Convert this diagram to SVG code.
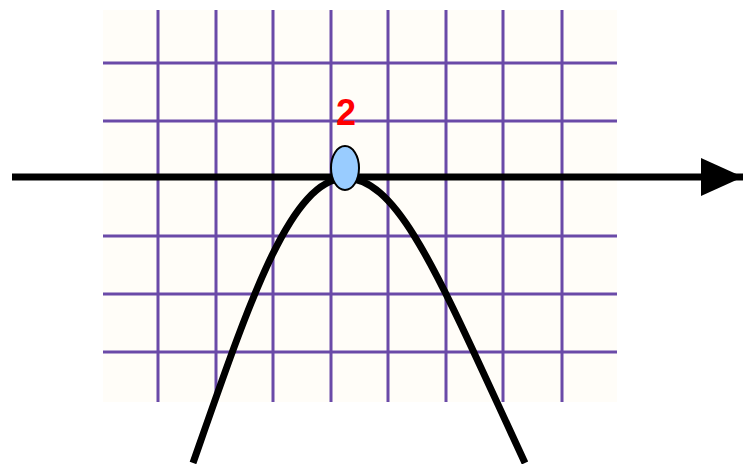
<svg xmlns="http://www.w3.org/2000/svg" width="743" height="464" viewBox="0 0 743 464">
<style>
.grid line{stroke:#6a4aa8;stroke-width:3}
.thick{stroke:#000;stroke-width:7;fill:none}
</style>
<defs>
<marker id="arr" markerUnits="userSpaceOnUse" markerWidth="44" markerHeight="38" refX="42" refY="19" orient="auto">
<path d="M0,0 L42,19 L0,38 Z" fill="#000"/>
</marker>
</defs>
<rect width="743" height="464" fill="#fff"/>
<g id="grid" class="grid">
<rect x="103" y="10" width="514" height="392" fill="#fffdf8"/>
<line x1="158" y1="10" x2="158" y2="402"/>
<line x1="216" y1="10" x2="216" y2="402"/>
<line x1="273" y1="10" x2="273" y2="402"/>
<line x1="331" y1="10" x2="331" y2="402"/>
<line x1="388" y1="10" x2="388" y2="402"/>
<line x1="446" y1="10" x2="446" y2="402"/>
<line x1="503" y1="10" x2="503" y2="402"/>
<line x1="562" y1="10" x2="562" y2="402"/>
<line x1="103" y1="63" x2="617" y2="63"/>
<line x1="103" y1="121" x2="617" y2="121"/>
<line x1="103" y1="236" x2="617" y2="236"/>
<line x1="103" y1="294" x2="617" y2="294"/>
<line x1="103" y1="352" x2="617" y2="352"/>
</g>
<g id="connectors">
<line id="axis" class="thick" x1="12" y1="177" x2="743" y2="177" marker-end="url(#arr)"/>
<path id="parabola" class="thick" d="M193,463 C250,300 290,180 345,178 C400,178 440,280 525,463"/>
</g>
<g id="point">
<ellipse cx="345" cy="168" rx="14" ry="22" fill="#99ccff" stroke="#000" stroke-width="2"/>
</g>
<g id="label">
<text x="346" y="125" text-anchor="middle" font-family="Liberation Sans, Arial, sans-serif" font-weight="bold" font-size="36" fill="#ff0000">2</text>
</g>
</svg>
